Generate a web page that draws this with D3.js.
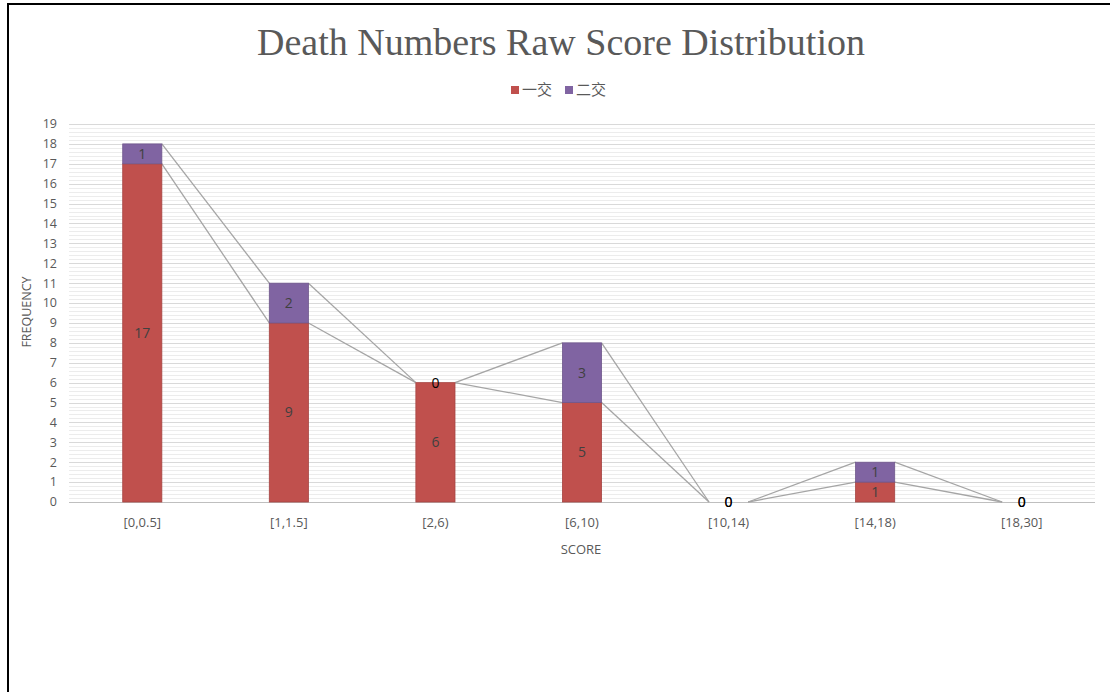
<!DOCTYPE html>
<html>
<head>
<meta charset="utf-8">
<script src="https://cdn.jsdelivr.net/npm/d3@7"></script>
<style>
  body { margin: 0; background: #fff; }
  text { font-family: "Open Sans", "Noto Sans CJK SC", sans-serif; fill: #595959; }
</style>
</head>
<body>
<svg id="chart"></svg>
<script>
var categories = ["[0,0.5]", "[1,1.5]", "[2,6)", "[6,10)", "[10,14)", "[14,18)", "[18,30]"];
var firstExam = [17, 9, 6, 5, 0, 1, 0];   // 一交
var secondExam = [1, 2, 0, 3, 0, 1, 0];   // 二交
var seriesNames = ["一交", "二交"];
var colors = ["#c0504d", "#8064a2"];
var yTicks = d3.range(0, 20);

var width = 1110, height = 692;

var svg = d3.select("#chart")
    .attr("width", width)
    .attr("height", height);

// outer frame
svg.append("path")
    .attr("d", "M8," + height + " L8,4 L" + width + ",4")
    .attr("fill", "none")
    .attr("stroke", "#000")
    .attr("stroke-width", 2);

var x = d3.scaleBand()
    .domain(categories)
    .range([69, 1095])
    .paddingInner(0.733)
    .paddingOuter(0.3665);

var y = d3.scaleLinear()
    .domain([0, 19])
    .range([502, 124]);

// minor gridlines
svg.append("g")
    .selectAll("line")
    .data(d3.range(0, 19.01, 0.2).filter(function(v) { return Math.abs(v - Math.round(v)) > 0.01; }))
    .enter().append("line")
    .attr("x1", 69).attr("x2", 1095)
    .attr("y1", function(d) { return Math.round(y(d)) + 0.5; })
    .attr("y2", function(d) { return Math.round(y(d)) + 0.5; })
    .attr("stroke", "#ececec");

// major gridlines
svg.append("g")
    .selectAll("line")
    .data(yTicks)
    .enter().append("line")
    .attr("x1", 69).attr("x2", 1095)
    .attr("y1", function(d) { return Math.round(y(d)) + 0.5; })
    .attr("y2", function(d) { return Math.round(y(d)) + 0.5; })
    .attr("stroke", function(d) { return d === 0 ? "#bfbfbf" : "#d9d9d9"; });

// y tick labels
svg.append("g")
    .selectAll("text")
    .data(yTicks)
    .enter().append("text")
    .attr("x", 57)
    .attr("y", function(d) { return y(d); })
    .attr("dy", "0.35em")
    .attr("text-anchor", "end")
    .style("font-size", "12.5px")
    .text(function(d) { return d; });

// x tick labels
svg.append("g")
    .selectAll("text")
    .data(categories)
    .enter().append("text")
    .attr("x", function(d) { return x(d) + x.bandwidth() / 2; })
    .attr("y", 527)
    .attr("text-anchor", "middle")
    .style("font-size", "13px")
    .text(function(d) { return d; });

var stacked = d3.stack().keys([0, 1])(categories.map(function(c, i) {
    return { cat: c, 0: firstExam[i], 1: secondExam[i] };
}));

// series lines
stacked.forEach(function(layer) {
    var segs = [];
    for (var i = 0; i < layer.length - 1; i++) {
        segs.push([
            [x(categories[i]) + x.bandwidth(), y(layer[i][1])],
            [x(categories[i + 1]), y(layer[i + 1][1])]
        ]);
    }
    svg.append("g")
        .selectAll("line")
        .data(segs)
        .enter().append("line")
        .attr("x1", function(d) { return d[0][0]; })
        .attr("y1", function(d) { return d[0][1]; })
        .attr("x2", function(d) { return d[1][0]; })
        .attr("y2", function(d) { return d[1][1]; })
        .attr("stroke", "#a5a5a5")
        .attr("stroke-width", 1.3);
});

// bars
stacked.forEach(function(layer, k) {
    svg.append("g")
        .selectAll("rect")
        .data(layer.filter(function(d) { return d[1] > d[0]; }))
        .enter().append("rect")
        .attr("x", function(d) { return x(d.data.cat); })
        .attr("y", function(d) { return y(d[1]); })
        .attr("width", x.bandwidth())
        .attr("height", function(d) { return y(d[0]) - y(d[1]); })
        .attr("fill", colors[k])
        .attr("stroke", d3.color(colors[k]).darker(0.4))
        .attr("stroke-width", 0.8);
});

// data labels
stacked.forEach(function(layer, k) {
    svg.append("g")
        .selectAll("text")
        .data(layer)
        .enter().append("text")
        .attr("x", function(d) { return x(d.data.cat) + x.bandwidth() / 2; })
        .attr("y", function(d) { return y((d[0] + d[1]) / 2); })
        .attr("dy", "0.35em")
        .attr("text-anchor", "middle")
        .style("font-size", "14px")
        .style("fill", function(d) { return d[1] > d[0] ? "#404040" : "#000"; })
        .text(function(d) { return d[1] - d[0]; });
});

// title
svg.append("text")
    .attr("x", 561)
    .attr("y", 55)
    .attr("text-anchor", "middle")
    .style("font-family", "'Liberation Serif', serif")
    .style("font-size", "38px")
    .text("Death Numbers Raw Score Distribution");

// legend
var legend = svg.append("g").attr("transform", "translate(511,90)");
var lx = 0;
seriesNames.forEach(function(name, k) {
    legend.append("rect")
        .attr("x", lx).attr("y", -4)
        .attr("width", 8).attr("height", 8)
        .attr("fill", colors[k]);
    legend.append("text")
        .attr("x", lx + 11).attr("y", 0)
        .attr("dy", "0.35em")
        .style("font-size", "15px")
        .style("font-family", "'Noto Sans CJK SC', sans-serif")
        .text(name);
    lx += 54;
});

// axis titles
svg.append("text")
    .attr("transform", "translate(31,312) rotate(-90)")
    .attr("text-anchor", "middle")
    .style("font-size", "12.5px")
    .text("FREQUENCY");

svg.append("text")
    .attr("x", 581)
    .attr("y", 554)
    .attr("text-anchor", "middle")
    .style("font-size", "13px")
    .text("SCORE");
</script>
</body>
</html>
